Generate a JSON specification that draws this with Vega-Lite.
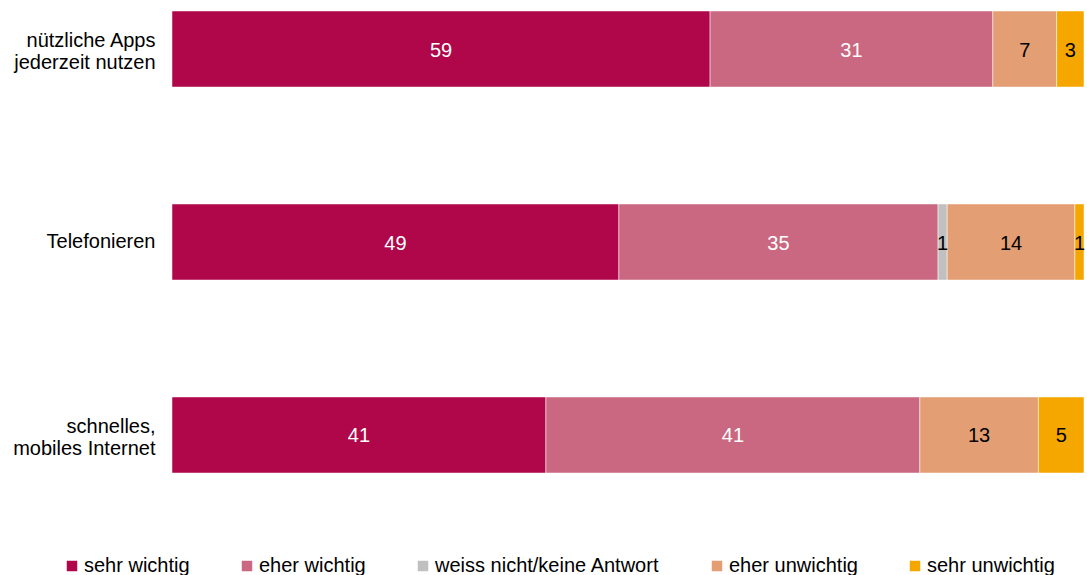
{
  "$schema": "https://vega.github.io/schema/vega-lite/v6.json",
  "width": 912,
  "height": 484,
  "autosize": "none",
  "padding": {"left": 172, "top": 0, "right": 3, "bottom": 91},
  "config": {
    "view": {"stroke": null},
    "font": "Liberation Sans"
  },
  "data": {
    "values": [
      {"item": "nützliche Apps|jederzeit nutzen", "cat": "sehr wichtig", "k": 1, "value": 59},
      {"item": "nützliche Apps|jederzeit nutzen", "cat": "eher wichtig", "k": 2, "value": 31},
      {"item": "nützliche Apps|jederzeit nutzen", "cat": "eher unwichtig", "k": 4, "value": 7},
      {"item": "nützliche Apps|jederzeit nutzen", "cat": "sehr unwichtig", "k": 5, "value": 3},
      {"item": "Telefonieren", "cat": "sehr wichtig", "k": 1, "value": 49},
      {"item": "Telefonieren", "cat": "eher wichtig", "k": 2, "value": 35},
      {"item": "Telefonieren", "cat": "weiss nicht/keine Antwort", "k": 3, "value": 1},
      {"item": "Telefonieren", "cat": "eher unwichtig", "k": 4, "value": 14},
      {"item": "Telefonieren", "cat": "sehr unwichtig", "k": 5, "value": 1},
      {"item": "schnelles,|mobiles Internet", "cat": "sehr wichtig", "k": 1, "value": 41},
      {"item": "schnelles,|mobiles Internet", "cat": "eher wichtig", "k": 2, "value": 41},
      {"item": "schnelles,|mobiles Internet", "cat": "eher unwichtig", "k": 4, "value": 13},
      {"item": "schnelles,|mobiles Internet", "cat": "sehr unwichtig", "k": 5, "value": 5}
    ]
  },
  "encoding": {
    "y": {
      "field": "item",
      "type": "nominal",
      "sort": ["nützliche Apps|jederzeit nutzen", "Telefonieren", "schnelles,|mobiles Internet"],
      "scale": {"paddingInner": 0.606, "paddingOuter": 0.057},
      "axis": {
        "title": null,
        "domain": false,
        "ticks": false,
        "labelExpr": "split(datum.label, '|')",
        "labelFontSize": 20,
        "labelLineHeight": 22,
        "labelColor": "#000000",
        "labelPadding": 17,
        "labelAlign": "right",
        "labelOffset": {"condition": {"test": "datum.value != 'Telefonieren'", "value": -8}, "value": 0},
        "labelLimit": 300
      }
    },
    "x": {
      "field": "value",
      "type": "quantitative",
      "stack": "zero",
      "scale": {"domain": [0, 100], "nice": false},
      "axis": null
    },
    "order": {"field": "k", "type": "quantitative"}
  },
  "layer": [
    {
      "mark": {"type": "bar", "stroke": "#ffffff", "strokeWidth": 0.5},
      "encoding": {
        "color": {
          "field": "cat",
          "type": "nominal",
          "sort": ["sehr wichtig", "eher wichtig", "weiss nicht/keine Antwort", "eher unwichtig", "sehr unwichtig"],
          "scale": {
            "domain": ["sehr wichtig", "eher wichtig", "weiss nicht/keine Antwort", "eher unwichtig", "sehr unwichtig"],
            "range": ["#B0064A", "#C96880", "#C0C0C0", "#E39E73", "#F5A700"]
          },
          "legend": {
            "title": null,
            "orient": "none",
            "direction": "horizontal",
            "legendX": -110,
            "legendY": 556,
            "symbolType": "square",
            "symbolSize": 110,
            "symbolStrokeWidth": 0,
            "labelFontSize": 20,
            "labelColor": "#000000",
            "labelOffset": 2,
            "columnPadding": 47,
            "labelLimit": 400
          }
        }
      }
    },
    {
      "mark": {"type": "text", "fontSize": 20, "baseline": "middle", "align": "center", "dy": 1.5},
      "encoding": {
        "x": {"field": "value", "type": "quantitative", "stack": "zero", "bandPosition": 0.5},
        "detail": {"field": "cat"},
        "text": {"field": "value", "type": "quantitative"},
        "color": {
          "condition": {"test": "datum.cat == 'sehr wichtig' || datum.cat == 'eher wichtig'", "value": "#ffffff"},
          "value": "#000000"
        }
      }
    }
  ]
}
